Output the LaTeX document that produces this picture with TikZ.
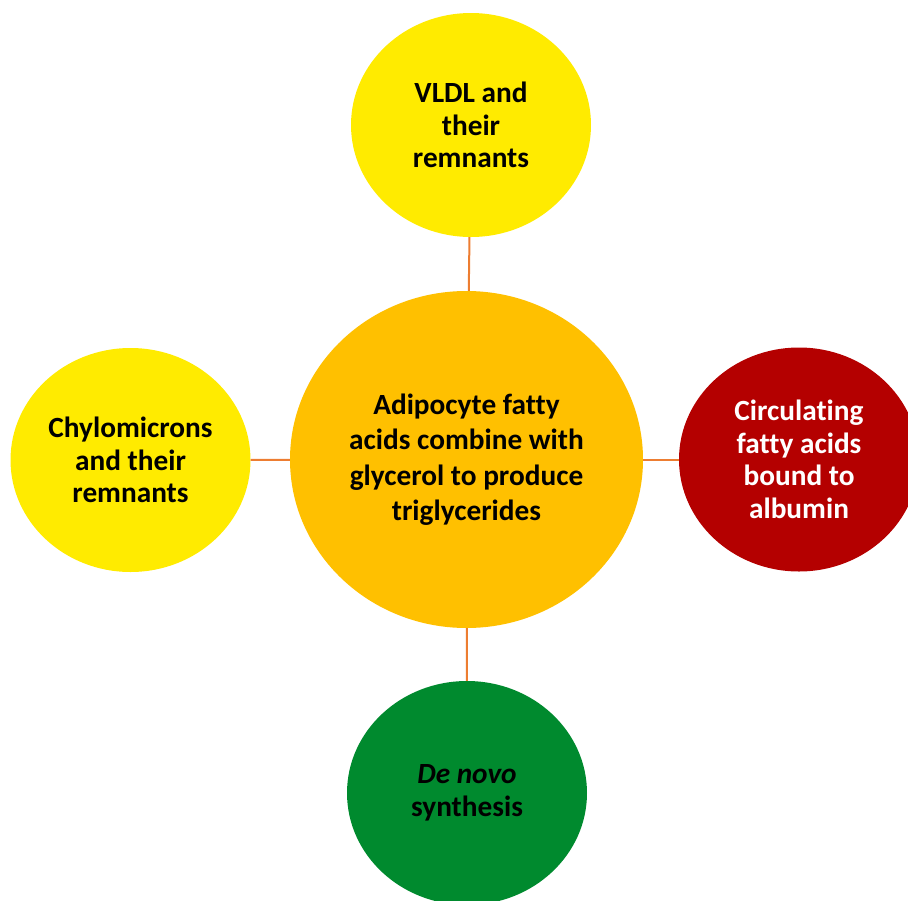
\documentclass[tikz,border=0pt]{standalone}
\usepackage{fontspec}
\setmainfont{Carlito}[Ligatures=NoCommon]
\usetikzlibrary{shapes.geometric}
\definecolor{hubamber}{HTML}{FFC000}
\definecolor{sunyellow}{HTML}{FFEB00}
\definecolor{deepred}{HTML}{B40000}
\definecolor{leafgreen}{HTML}{008A2E}
\definecolor{linkorange}{HTML}{ED7D31}

\begin{document}
\begin{tikzpicture}[x=1pt,y=-1pt,
  blob/.style={ellipse,inner sep=0pt,minimum width=240pt,minimum height=224pt,align=center,
    font=\bfseries\fontsize{29.3}{32.5}\selectfont},
  link/.style={draw=linkorange,line width=2pt}]
\useasboundingbox (0,0) rectangle (908,900);
\clip (0,0) rectangle (908,900);
% central circle
\node[blob,fill=hubamber,minimum width=353pt,minimum height=337pt,
  font=\bfseries\fontsize{29.3}{35.5}\selectfont] (hub) at (466.5,459.5)
  {Adipocyte fatty\\acids combine with\\glycerol to produce\\triglycerides};
% sources
\node[blob,fill=sunyellow] (vldl) at (471,125) {VLDL and\\their\\remnants};
\node[blob,fill=sunyellow] (chylo) at (130.5,460) {Chylomicrons\\and their\\remnants};
\node[blob,fill=deepred,text=white] (albumin) at (799,459.5) {Circulating\\fatty acids\\bound to\\albumin};
\node[blob,fill=leafgreen] (denovo) at (467,793) {\itshape De novo\\synthesis};
% links
\foreach \n in {vldl,chylo,albumin,denovo}{ \draw[link] (hub) -- (\n); }
\end{tikzpicture}
\end{document}
